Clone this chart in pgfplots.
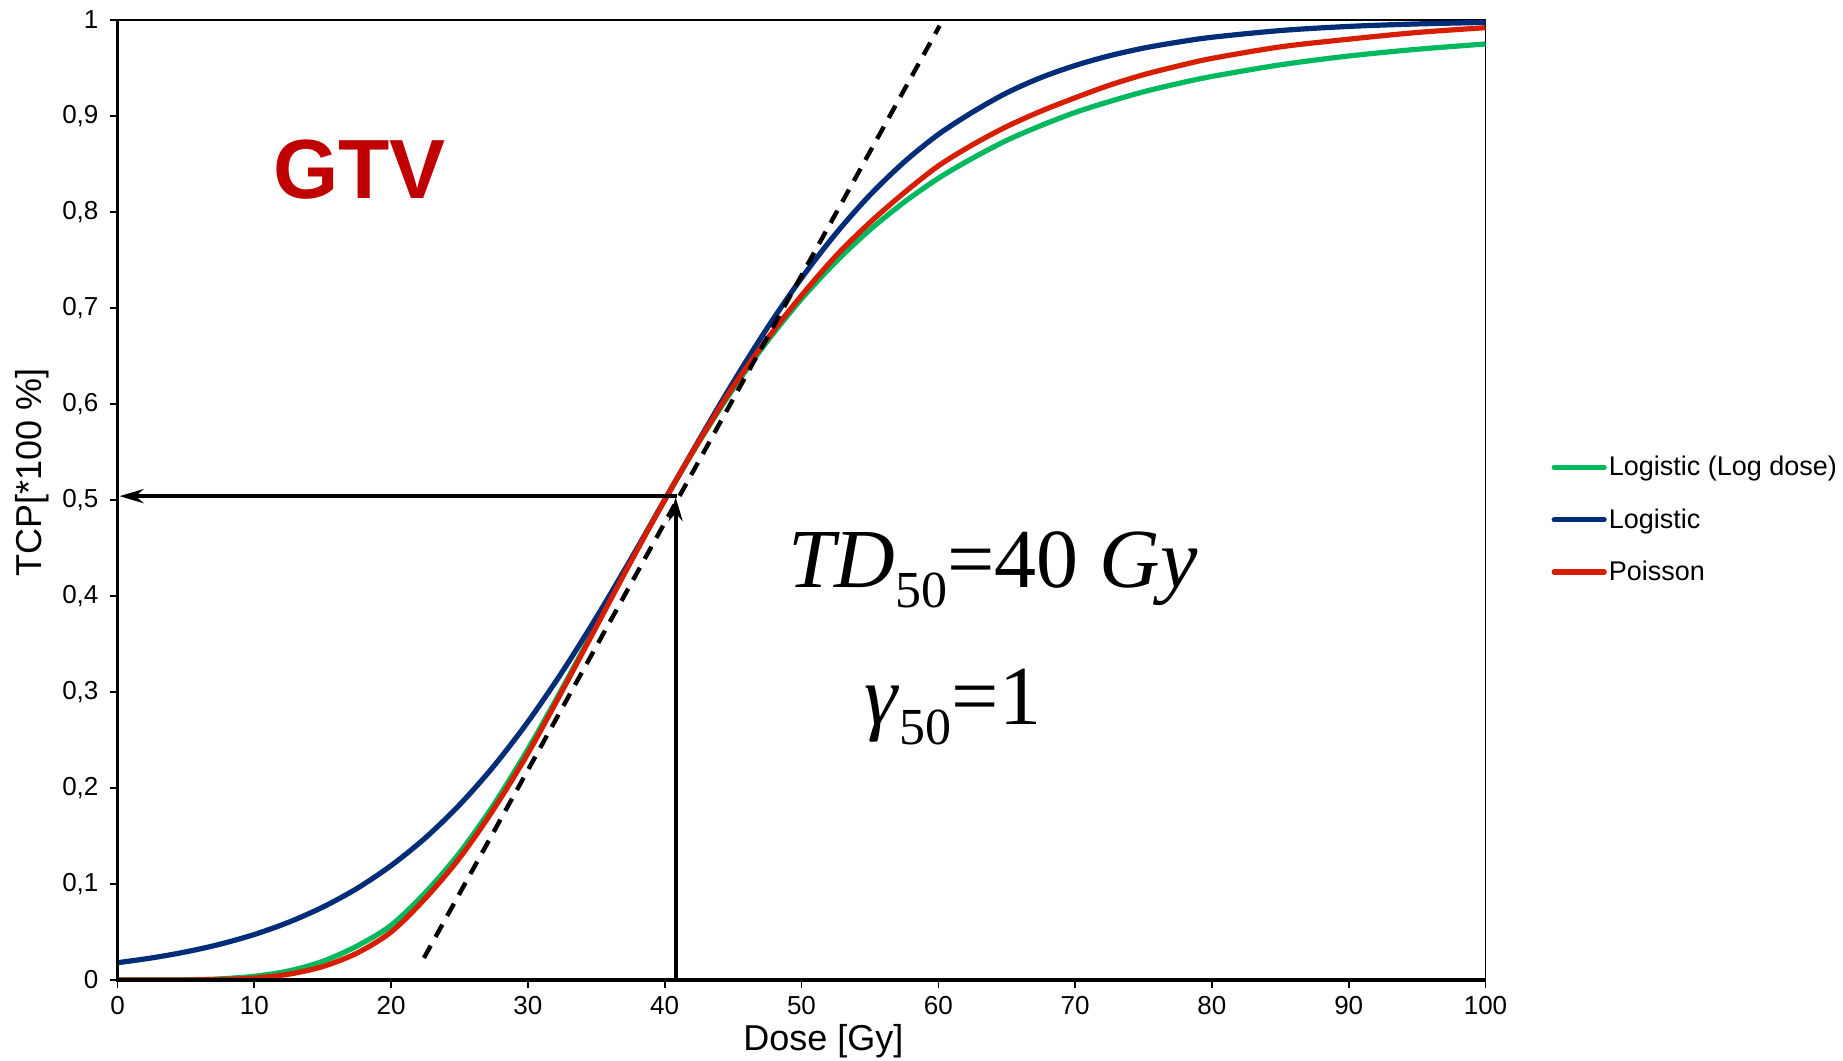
\documentclass[border=0pt]{standalone}
\usepackage{pgfplots}
\pgfplotsset{compat=1.18}
\usepackage{pgfplotstable}
\usetikzlibrary{arrows.meta}
\usepackage{fontspec}
\setmainfont{Liberation Sans}
\newfontfamily\seriffont{Liberation Serif}
\definecolor{cgreen}{RGB}{0,185,95}
\definecolor{cblue}{RGB}{0,45,120}
\definecolor{cred}{RGB}{215,30,0}
\definecolor{gtv}{RGB}{192,0,0}

\pgfplotstableread{
D green blue red
0 0.0000 0.0180 0.0000
2.5 0.0000 0.0230 0.0000
5 0.0002 0.0293 0.0000
7.5 0.0012 0.0373 0.0005
10 0.0039 0.0474 0.0020
12.5 0.0094 0.0601 0.0060
15 0.0194 0.0759 0.0140
17.5 0.0353 0.0953 0.0280
20 0.0570 0.1192 0.0500
22.5 0.0910 0.1480 0.0850
25 0.1324 0.1824 0.1270
27.5 0.1826 0.2227 0.1780
30 0.2404 0.2689 0.2360
32.5 0.3035 0.3208 0.3010
35 0.3695 0.3775 0.3680
37.5 0.4358 0.4378 0.4350
40 0.5000 0.5000 0.5000
42.5 0.5603 0.5622 0.5610
45 0.6157 0.6225 0.6180
47.5 0.6654 0.6792 0.6680
50 0.7094 0.7311 0.7130
52.5 0.7480 0.7773 0.7540
55 0.7814 0.8176 0.7890
57.5 0.8102 0.8520 0.8200
60 0.8351 0.8808 0.8480
62.5 0.8560 0.9040 0.8700
65 0.8746 0.9241 0.8890
67.5 0.8900 0.9400 0.9050
70 0.9037 0.9526 0.9190
72.5 0.9150 0.9627 0.9320
75 0.9252 0.9707 0.9430
77.5 0.9337 0.9769 0.9520
80 0.9412 0.9820 0.9600
85 0.9533 0.9890 0.9720
90 0.9625 0.9933 0.9800
95 0.9695 0.9959 0.9870
100 0.9750 0.9975 0.9920
}\tcp

\begin{document}
\begin{tikzpicture}
\begin{axis}[
  at={(0,0)}, anchor=south west,
  width=684pt, height=480pt, scale only axis,
  xmin=0, xmax=100, ymin=0, ymax=1,
  xtick={0,10,20,30,40,50,60,70,80,90,100},
  ytick={0,0.1,0.2,0.3,0.4,0.5,0.6,0.7,0.8,0.9,1},
  yticklabels={0,{0,1},{0,2},{0,3},{0,4},{0,5},{0,6},{0,7},{0,8},{0,9},1},
  tick align=outside, tick pos=left,
  major tick length=4pt,
  every tick/.style={black, line width=0.8pt},
  tick label style={font=\fontsize{13}{13}\selectfont},
  xticklabel style={yshift=-3pt, inner sep=1pt},
  yticklabel style={xshift=-2pt},
  /pgf/number format/assume math mode=true,
  axis line style={black, line width=0.8pt},
  xlabel={Dose [Gy]},
  ylabel={TCP[*100 \%]},
  xlabel style={font=\fontsize{18}{18}\selectfont, at={(axis description cs:0.516,-0.064)}, anchor=center, inner sep=0pt},
  ylabel style={font=\fontsize{18}{18}\selectfont, at={(axis description cs:-0.0627,0.529)}, anchor=center, rotate=0},
  legend style={draw=none, fill=none, at={(axis description cs:1.048,0.548)}, anchor=north west,
    font=\fontsize{13.5}{15}\selectfont, row sep=12.8pt, inner sep=0pt, nodes={inner sep=1pt}},
  legend cell align=left,
  legend image code/.code={\draw[#1, line width=2.6pt, line cap=round] (0pt,0pt) -- (25pt,0pt);},
]
\addplot[cgreen, line width=2.6pt, smooth] table[x=D, y=green] {\tcp};
\addlegendentry{Logistic (Log dose)}
\addplot[cblue, line width=2.6pt, smooth] table[x=D, y=blue] {\tcp};
\addlegendentry{Logistic}
\addplot[cred, line width=2.6pt, smooth] table[x=D, y=red] {\tcp};
\addlegendentry{Poisson}

\addplot[black, line width=2.2pt, dash pattern=on 7pt off 5pt, forget plot] coordinates {(22.4,0.023) (60.1,0.994)};
\addplot[black, line width=2.1pt, -{Stealth[length=12pt,width=7pt,inset=4pt]}, forget plot] coordinates {(40.8,0) (40.8,0.503)};
\addplot[black, line width=2pt, -{Stealth[length=12pt,width=7pt,inset=4pt]}, forget plot] coordinates {(40.9,0.504) (0.15,0.504)};

\node[font=\fontsize{42}{42}\selectfont\bfseries, text=gtv, anchor=center] at (axis cs:17.7,0.844) {GTV};
\node[font=\seriffont\fontsize{42}{42}\selectfont, anchor=base west, inner sep=0pt] at (axis cs:49,0.409)
  {\textit{TD}\raisebox{-10pt}{\fontsize{26}{26}\selectfont 50}=40 \textit{Gy}};
\node[font=\seriffont\fontsize{42}{42}\selectfont, anchor=base west, inner sep=0pt] at (axis cs:54.6,0.266)
  {\textit{γ}\raisebox{-10pt}{\fontsize{26}{26}\selectfont 50}=1};
\end{axis}
\draw[black, line width=1.6pt] (0,480pt) -- (0,0) -- (684pt,0);
\pgfresetboundingbox
\useasboundingbox (-58.75pt,-40.35pt) rectangle (862.75pt,490pt);
\end{tikzpicture}
\end{document}
